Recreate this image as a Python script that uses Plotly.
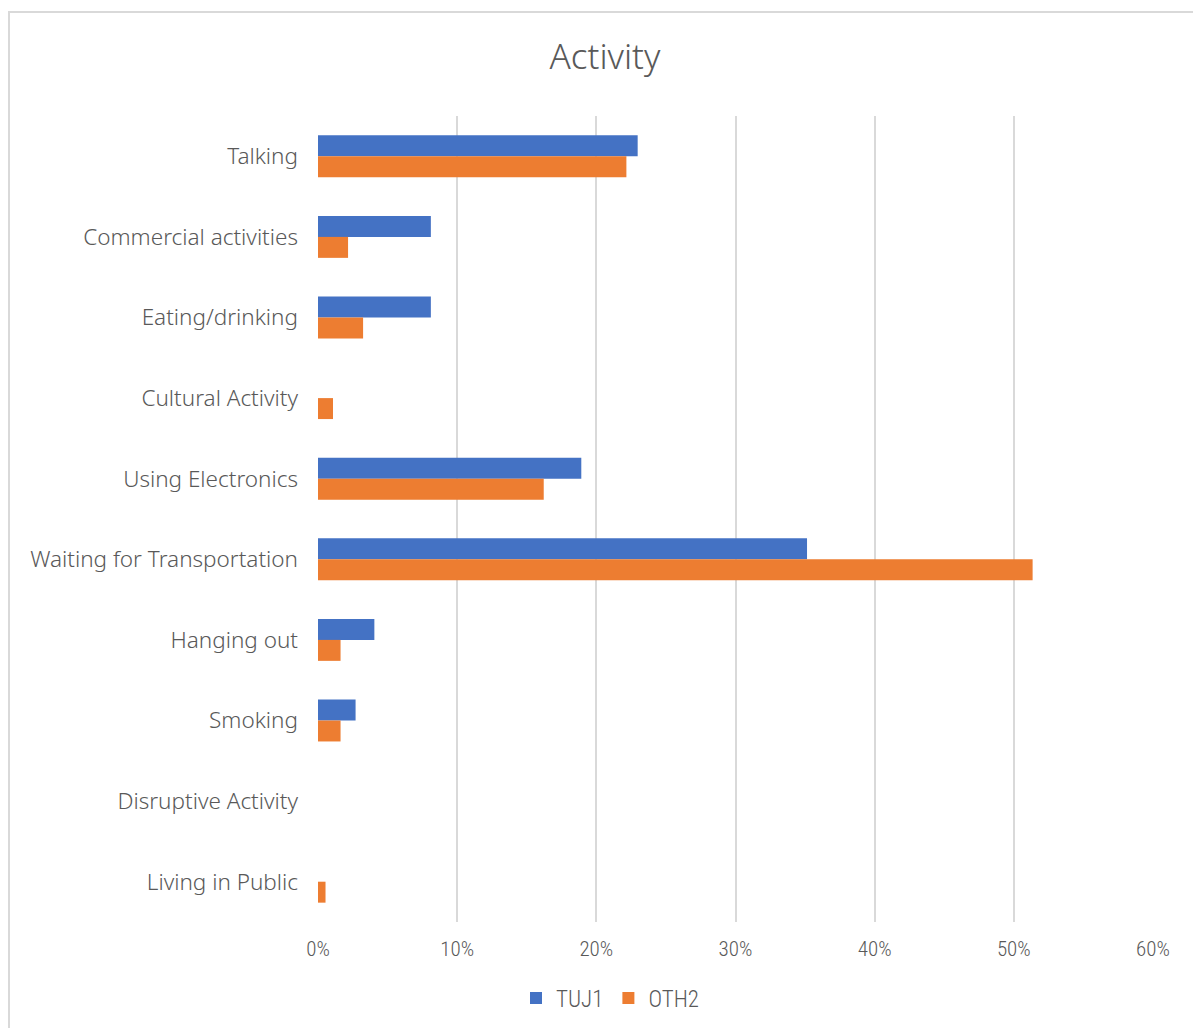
import plotly.graph_objects as go

categories = ["Talking", "Commercial activities", "Eating/drinking", "Cultural Activity",
              "Using Electronics", "Waiting for Transportation", "Hanging out", "Smoking",
              "Disruptive Activity", "Living in Public"]
tuj1 = [0.2297, 0.0811, 0.0811, 0.0, 0.1892, 0.3514, 0.0405, 0.0270, 0.0, 0.0]
oth2 = [0.2216, 0.0216, 0.0324, 0.0108, 0.1622, 0.5135, 0.0162, 0.0162, 0.0, 0.0054]
tick_vals = [0, 0.1, 0.2, 0.3, 0.4, 0.5, 0.6]
tick_text = ["0%", "10%", "20%", "30%", "40%", "50%", "60%"]

OFF = 8  # page body margin
W, H = 1201, 1028
L, R, T, B = 318 - OFF, 1153 - OFF, 116 - OFF, 922 - OFF
pw, ph = R - L, B - T

def px_x(x):
    return (x - OFF - L) / pw

def px_y(y):
    return (B - (y - OFF)) / ph

text_col = "#595959"
main_font = "'Noto Sans', 'Open Sans', sans-serif"
narrow_font = "'Roboto Condensed', 'Liberation Sans Narrow', 'Noto Sans', sans-serif"

fig = go.Figure()
fig.add_trace(go.Bar(y=categories, x=tuj1, name="TUJ1", orientation="h",
                     marker=dict(color="#4472C4", line=dict(width=0))))
fig.add_trace(go.Bar(y=categories, x=oth2, name="OTH2", orientation="h",
                     marker=dict(color="#ED7D31", line=dict(width=0))))

fig.update_layout(
    width=W, height=H,
    margin=dict(l=L, r=W - R, t=T, b=H - B, autoexpand=False),
    paper_bgcolor="white", plot_bgcolor="white",
    barmode="group", bargap=0.48, bargroupgap=0,
    title=dict(text="Activity", x=(605 - OFF) / W, xanchor="center", y=1 - (57 - OFF) / H,
               yanchor="middle",
               font=dict(family=main_font, size=35, color=text_col, weight=300)),
    xaxis=dict(range=[0, 0.6], tickvals=tick_vals, ticktext=tick_text,
               showgrid=True, gridcolor="#D9D9D9", gridwidth=2, zeroline=False,
               showline=False, ticks="", ticklabelstandoff=12,
               tickfont=dict(family=narrow_font, size=21, color=text_col, weight=300)),
    yaxis=dict(autorange="reversed", showgrid=False, zeroline=False, showline=False,
               ticks="", ticklabelstandoff=19,
               tickfont=dict(family=main_font, size=22.5, color=text_col, weight=300)),
    legend=dict(orientation="h", x=px_x(610), xanchor="center", y=px_y(998), yanchor="middle",
                font=dict(family=narrow_font, size=23, color=text_col, weight=300),
                itemwidth=30, traceorder="normal", bgcolor="rgba(0,0,0,0)"),
    showlegend=True,
    shapes=[dict(type="rect", xref="paper", yref="paper",
                 x0=px_x(9), x1=px_x(1200), y0=px_y(1045), y1=px_y(12),
                 line=dict(color="#D9D9D9", width=2), layer="below")],
)

fig.write_html("out.html")
